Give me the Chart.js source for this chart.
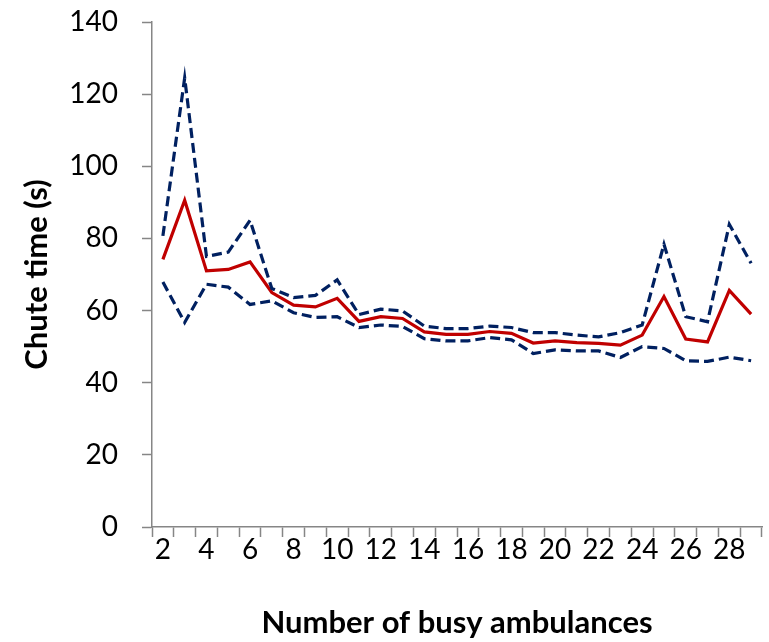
<!DOCTYPE html>
<html>
<head>
<meta charset="utf-8">
<script src="https://cdn.jsdelivr.net/npm/chart.js@4"></script>
<style>
  html, body { margin: 0; padding: 0; background: #fff; }
  #chuteChart { display: block; }
</style>
</head>
<body>
<canvas id="chuteChart" width="769" height="642"></canvas>
<script>
// Liczba zajętych karetek (oś X)
const busyAmbulances = ["2", "3", "4", "5", "6", "7", "8", "9", "10", "11", "12", "13", "14", "15",
  "16", "17", "18", "19", "20", "21", "22", "23", "24", "25", "26", "27", "28", "29"]

// Średni czas wyjazdu (s)
const meanChute = [74.2, 90.6, 71, 71.4, 73.5, 65, 61.5, 61, 63.4, 57, 58.3, 57.8, 54.1, 53.4,
  53.4, 54.2, 53.7, 51, 51.6, 51.1, 50.9, 50.4, 53.2, 63.9, 52.1, 51.3, 65.6, 59]

// Górna granica przedziału
const upperChute = [80.7, 124.5, 75, 76.2, 85, 66.1, 63.6, 64.2, 68.5, 58.9, 60.4, 59.9, 55.7, 55,
  55, 55.7, 55.3, 53.9, 53.9, 53.2, 52.7, 53.9, 56, 78.4, 58.3, 56.9, 83.9, 73.1]

// Dolna granica przedziału
const lowerChute = [67.9, 56.7, 67.3, 66.5, 61.7, 62.7, 59.4, 58.1, 58.3, 55.3, 56, 55.6, 52.2, 51.6,
  51.6, 52.5, 51.9, 48.1, 49.1, 48.8, 48.8, 47, 50, 49.5, 46.1, 45.9, 47.1, 46.1]

// Podziałka osi Y
const yTicks = [0, 20, 40, 60, 80, 100, 120, 140]

const axisGray = "#868686"
const fontFamily = "Lato, 'Open Sans', sans-serif"

const config = {
  type: "line",
  data: {
    labels: busyAmbulances,
    datasets: [
      {
        label: "Górna granica",
        data: upperChute,
        borderColor: "#002060",
        borderWidth: 3.2,
        borderDash: [10, 5],
        pointRadius: 0,
        tension: 0,
      },
      {
        label: "Dolna granica",
        data: lowerChute,
        borderColor: "#002060",
        borderWidth: 3.2,
        borderDash: [10, 5],
        pointRadius: 0,
        tension: 0,
      },
      {
        label: "Średnia",
        data: meanChute,
        borderColor: "#C00000",
        borderWidth: 3.2,
        pointRadius: 0,
        tension: 0,
      },
    ],
  },
  options: {
    responsive: false,
    animation: false,
    layout: { padding: { left: 0, right: 7, top: 22, bottom: 0 } },
    plugins: {
      legend: { display: false },
      tooltip: { enabled: false },
    },
    scales: {
      x: {
        type: "category",
        offset: true,
        grid: {
          offset: true,
          drawOnChartArea: false,
          drawTicks: true,
          tickLength: 10,
          tickColor: axisGray,
          tickWidth: 1.5,
        },
        border: { color: axisGray, width: 1.5 },
        ticks: {
          autoSkip: false,
          maxRotation: 0,
          color: "#000",
          padding: -4,
          font: { family: fontFamily, size: 28 },
          callback: function (value, index) {
            const label = busyAmbulances[index]
            return Number(label) % 2 === 0 ? label : ""
          },
        },
        title: {
          display: true,
          text: "Number of busy ambulances",
          color: "#000",
          font: { family: fontFamily, size: 31, weight: "bold" },
          padding: { top: 0, bottom: 0 },
        },
        afterFit: function (scale) {
          scale.height = 115
          scale.paddingLeft = 0
          scale.paddingRight = 0
        },
      },
      y: {
        min: 0,
        max: 140,
        afterBuildTicks: function (scale) {
          scale.ticks = yTicks.map((v) => ({ value: v }))
        },
        grid: {
          drawOnChartArea: false,
          drawTicks: true,
          tickLength: 10,
          tickColor: axisGray,
          tickWidth: 1.5,
        },
        border: { color: axisGray, width: 1.5 },
        ticks: {
          color: "#000",
          padding: 24,
          font: { family: fontFamily, size: 28 },
        },
        title: {
          display: true,
          text: "Chute time (s)",
          color: "#000",
          font: { family: fontFamily, size: 31, weight: "bold" },
          padding: { top: 18, bottom: 0 },
        },
        afterFit: function (scale) {
          // odstęp etykiet od osi nie powinien przesuwać obszaru wykresu
          scale.width = 152
          scale.paddingTop = 0
          scale.paddingBottom = 0
        },
      },
    },
  },
}

// Rysowanie wykresu
const chuteChart = new Chart(document.getElementById("chuteChart"), config)
</script>
</body>
</html>
